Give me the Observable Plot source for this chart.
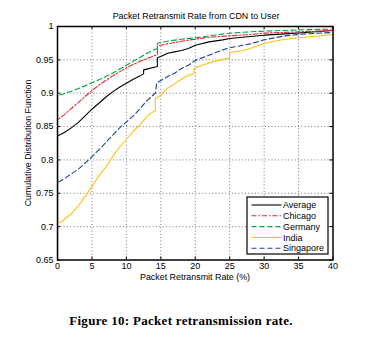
<!DOCTYPE html>
<html>
<head>
<meta charset="utf-8">
<script src="https://cdn.jsdelivr.net/npm/d3@7"></script>
<script src="https://cdn.jsdelivr.net/npm/@observablehq/plot@0.6"></script>
<style>
  html, body { margin: 0; padding: 0; background: #fff; }
  #wrap { position: relative; width: 371px; height: 339px; font-family: "Liberation Sans", Arial, sans-serif; }
  .lbl { position: absolute; white-space: nowrap; color: #000; }
</style>
</head>
<body>
<div id="wrap"></div>
<script>
// ---- data ----
const seriesNames = ["Average", "Chicago", "Germany", "India", "Singapore"];
const seriesColors = ["#000000", "#e8262a", "#0aa04a", "#ffbf10", "#213f98"];
const seriesDash = ["none", "5,2,1.5,2", "5,3", "none", "5,3"];

const averageX = [0, 0, 1, 2, 3, 4, 5, 6, 7, 8, 9, 10, 11, 12, 12.5, 12.5, 14.5, 14.5, 15, 16, 17, 18, 19, 20, 22, 24, 25, 28, 30, 33, 36, 40];
const averageY = [0.6, 0.836, 0.841, 0.848, 0.856, 0.866, 0.876, 0.885, 0.894, 0.902, 0.909, 0.915, 0.921, 0.926, 0.929, 0.935, 0.940, 0.953, 0.955, 0.960, 0.962, 0.964, 0.967, 0.972, 0.977, 0.980, 0.982, 0.985, 0.987, 0.989, 0.991, 0.994];

const chicagoX = [0, 0, 1, 2, 3, 4, 5, 6, 7, 8, 9, 10, 11, 12, 13, 14, 14.5, 14.5, 16, 18, 20, 22, 25, 28, 30, 35, 40];
const chicagoY = [0.6, 0.860, 0.868, 0.877, 0.886, 0.895, 0.904, 0.912, 0.919, 0.926, 0.932, 0.938, 0.943, 0.948, 0.952, 0.956, 0.958, 0.971, 0.974, 0.978, 0.981, 0.984, 0.986, 0.988, 0.990, 0.992, 0.994];

const germanyX = [0, 0, 2, 4, 6, 8, 10, 12, 13, 14, 14.5, 14.5, 16, 18, 20, 22, 25, 28, 30, 35, 40];
const germanyY = [0.6, 0.896, 0.903, 0.911, 0.920, 0.930, 0.942, 0.954, 0.960, 0.965, 0.967, 0.975, 0.978, 0.981, 0.983, 0.986, 0.990, 0.992, 0.993, 0.995, 0.996];

const indiaX = [0, 0, 0.5, 1, 2, 3, 4, 5, 6, 7, 8, 9, 10, 11, 12, 12.5, 13, 14.2, 14.2, 15, 16, 17, 18, 19, 19.8, 19.8, 21, 22.5, 25, 25, 27, 28, 30, 32, 34, 37, 40];
const indiaY = [0.6, 0.705, 0.707, 0.711, 0.719, 0.731, 0.745, 0.760, 0.776, 0.789, 0.805, 0.819, 0.831, 0.843, 0.853, 0.859, 0.866, 0.874, 0.892, 0.897, 0.908, 0.914, 0.921, 0.927, 0.929, 0.937, 0.942, 0.947, 0.953, 0.961, 0.964, 0.967, 0.975, 0.979, 0.982, 0.985, 0.988];

const singaporeX = [0, 0, 1, 2, 3, 4, 5, 6, 7, 8, 9, 10, 11, 12, 13, 14.2, 14.4, 15, 16, 17, 18, 19, 20, 22, 24, 25, 26, 28, 30, 33, 36, 40];
const singaporeY = [0.6, 0.766, 0.772, 0.779, 0.786, 0.795, 0.805, 0.815, 0.826, 0.837, 0.848, 0.857, 0.866, 0.877, 0.889, 0.900, 0.915, 0.919, 0.925, 0.930, 0.937, 0.942, 0.949, 0.957, 0.965, 0.968, 0.970, 0.974, 0.980, 0.986, 0.989, 0.991];

const xTicks = [0, 5, 10, 15, 20, 25, 30, 35, 40];
const yTicks = [0.65, 0.7, 0.75, 0.8, 0.85, 0.9, 0.95, 1];
const yTickLabels = ["0.65", "0.7", "0.75", "0.8", "0.85", "0.9", "0.95", "1"];

const titleText = "Packet Retransmit Rate from CDN to User";
const xLabelText = "Packet Retransmit Rate (%)";
const yLabelText = "Cumulative Distribution Function";
const captionText = "Figure 10: Packet retransmission rate.";

// ---- build table ----
const xs = [averageX, chicagoX, germanyX, indiaX, singaporeX];
const ys = [averageY, chicagoY, germanyY, indiaY, singaporeY];
const table = [];
seriesNames.forEach((name, i) => {
  xs[i].forEach((x, j) => table.push({series: name, x, y: ys[i][j], order: i}));
});

const W = 371, H = 300;
const mL = 57, mR = 38.5, mT = 26, mB = 40.5;

const gridX = xTicks.slice(1, -1), gridY = yTicks.slice(1, -1);
const tickLenX = 0.0045, tickLenY = 0.45;

const marks = [
  Plot.ruleX(gridX, {x: d => d, stroke: "#777", strokeWidth: 1, strokeDasharray: "1,2.3"}),
  Plot.ruleY(gridY, {y: d => d, stroke: "#777", strokeWidth: 1, strokeDasharray: "1,2.3"}),
  Plot.ruleX(xTicks, {x: d => d, y1: 0.65, y2: 0.65 + tickLenX, stroke: "#000"}),
  Plot.ruleX(xTicks, {x: d => d, y1: 1, y2: 1 - tickLenX, stroke: "#000"}),
  Plot.ruleY(yTicks, {y: d => d, x1: 0, x2: tickLenY, stroke: "#000"}),
  Plot.ruleY(yTicks, {y: d => d, x1: 40, x2: 40 - tickLenY, stroke: "#000"}),
];
seriesNames.forEach((name, i) => {
  marks.push(Plot.line(table.filter(d => d.series === name), {
    x: "x", y: "y", stroke: seriesColors[i], strokeWidth: 1.1,
    strokeDasharray: seriesDash[i] === "none" ? null : seriesDash[i],
    clip: true
  }));
});
marks.push(Plot.frame({stroke: "#000", strokeWidth: 1.5}));
marks.push(Plot.axisX(xTicks, {tickSize: 0, tickPadding: 3, fontSize: 9, label: null}));
marks.push(Plot.axisY(yTicks, {tickSize: 0, tickPadding: 4, fontSize: 9, label: null,
  tickFormat: d => yTickLabels[yTicks.indexOf(d)]}));

const chart = Plot.plot({
  width: W, height: H,
  marginLeft: mL, marginRight: mR, marginTop: mT, marginBottom: mB,
  style: {fontFamily: "'Liberation Sans', Arial, sans-serif", color: "#000", background: "transparent", overflow: "visible"},
  x: {domain: [0, 40]},
  y: {domain: [0.65, 1]},
  marks
});
const wrap = document.getElementById("wrap");
chart.style.position = "absolute";
chart.style.left = "0px";
chart.style.top = "0px";
wrap.appendChild(chart);

function addLabel(text, css) {
  const d = document.createElement("div");
  d.className = "lbl";
  d.textContent = text;
  Object.assign(d.style, css);
  wrap.appendChild(d);
  return d;
}
addLabel(titleText, {left: "0px", width: "392px", textAlign: "center", top: "11px", fontSize: "8.9px"});
addLabel(xLabelText, {left: "0px", width: "390px", textAlign: "center", top: "272px", fontSize: "8.9px"});
addLabel(yLabelText, {left: "28px", top: "143px", fontSize: "8.8px", transform: "translate(-50%,-50%) rotate(-90deg)"});
addLabel(captionText, {left: "0px", width: "362px", textAlign: "center", top: "313px", fontSize: "13px",
  letterSpacing: "0.3px",
  fontFamily: "'Liberation Serif', 'Times New Roman', serif", fontWeight: "bold"});

// legend
const lg = d3.select(wrap).append("svg")
  .attr("width", 83).attr("height", 59)
  .style("position", "absolute").style("left", "246px").style("top", "196px");
lg.append("rect").attr("x", 1).attr("y", 1).attr("width", 81).attr("height", 57)
  .attr("fill", "#fff").attr("stroke", "#000").attr("stroke-width", 1.2);
seriesNames.forEach((name, i) => {
  const cy = 9 + i * 10.8;
  lg.append("line").attr("x1", 5.5).attr("x2", 35.5).attr("y1", cy).attr("y2", cy)
    .attr("stroke", seriesColors[i]).attr("stroke-width", 1.1)
    .attr("stroke-dasharray", seriesDash[i] === "none" ? null : seriesDash[i]);
  lg.append("text").attr("x", 37).attr("y", cy).attr("dy", "0.35em")
    .attr("font-size", 9).attr("font-family", "'Liberation Sans', Arial, sans-serif")
    .text(name);
});
</script>
</body>
</html>
